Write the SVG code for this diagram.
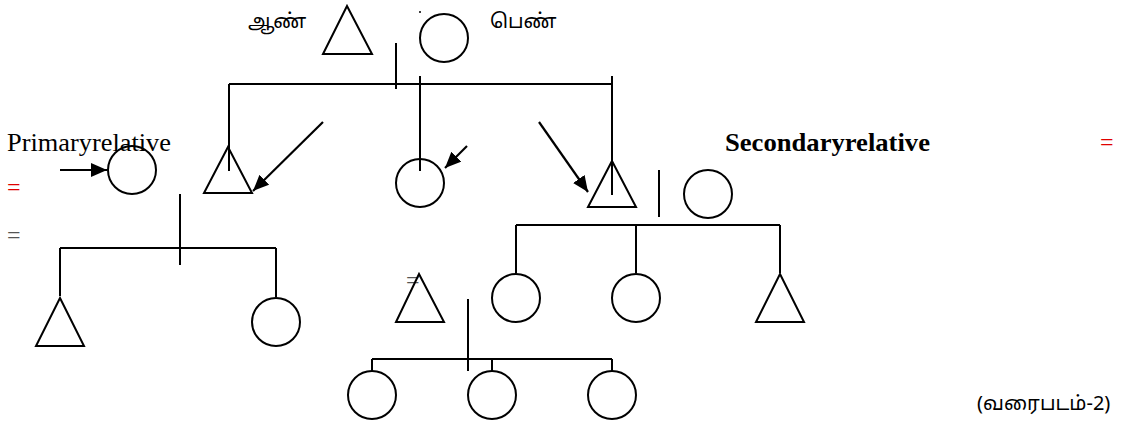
<svg xmlns="http://www.w3.org/2000/svg" width="1129" height="424" viewBox="0 0 1129 424">
  <style>
    .shape { fill: none; stroke: #000; stroke-width: 2; }
    .link { fill: none; stroke: #000; stroke-width: 2; }
    .arrow { fill: none; stroke: #000; stroke-width: 2.2; marker-end: url(#head); }
    .tamil { font-family: "Noto Sans", "Noto Sans Tamil", "DejaVu Sans", sans-serif; font-size: 20px; fill: #000; }
    .serif { font-family: "Liberation Serif", "Times New Roman", serif; font-size: 26px; fill: #000; }
    .bold { font-weight: bold; }
    .eq { font-family: "Liberation Serif", "Times New Roman", serif; font-size: 24px; }
    .red { fill: #e00000; }
    .grey { fill: #555; }
  </style>
  <defs>
    <marker id="head" viewBox="0 0 16 14" refX="16" refY="7" markerWidth="16" markerHeight="14" markerUnits="userSpaceOnUse" orient="auto">
      <path d="M0,0 L16,7 L0,14 z" fill="#000"/>
    </marker>
  </defs>

  <rect width="1129" height="424" fill="#fff"/>

  <!-- labels -->
  <g id="labels">
    <text class="tamil" x="248" y="28">ஆண்</text>
    <text class="tamil" x="490" y="28">பெண்</text>
    <text class="serif" x="7" y="151" textLength="164" lengthAdjust="spacingAndGlyphs">Primaryrelative</text>
    <text class="serif bold" x="725" y="151" textLength="205" lengthAdjust="spacingAndGlyphs">Secondaryrelative</text>
    <text class="eq red" x="1100" y="150">=</text>
    <text class="eq red" x="7" y="195">=</text>
    <text class="eq grey" x="7" y="243">=</text>
    <text class="eq grey" x="406" y="288" font-size="12">=</text>
    <text class="tamil" x="977" y="410">(வரைபடம்-2)</text>
    <circle cx="420" cy="12" r="1" fill="#000"/>
  </g>

  <!-- connectors -->
  <g id="connectors">
    <!-- first generation couple -->
    <line class="link" x1="396" y1="43" x2="396" y2="89"/>
    <line class="link" x1="229" y1="84" x2="612" y2="84"/>
    <line class="link" x1="229" y1="84" x2="229" y2="171"/>
    <line class="link" x1="420" y1="76" x2="420" y2="171"/>
    <line class="link" x1="612" y1="76" x2="612" y2="195"/>
    <!-- left family -->
    <line class="link" x1="180" y1="194" x2="180" y2="265"/>
    <line class="link" x1="60" y1="248" x2="276" y2="248"/>
    <line class="link" x1="60" y1="248" x2="60" y2="296"/>
    <line class="link" x1="276" y1="248" x2="276" y2="297"/>
    <!-- right family -->
    <line class="link" x1="659" y1="170" x2="659" y2="217"/>
    <line class="link" x1="516" y1="225" x2="780" y2="225"/>
    <line class="link" x1="516" y1="225" x2="516" y2="273"/>
    <line class="link" x1="636" y1="225" x2="636" y2="273"/>
    <line class="link" x1="780" y1="225" x2="780" y2="273"/>
    <!-- lower family -->
    <line class="link" x1="468" y1="299" x2="468" y2="371"/>
    <line class="link" x1="372" y1="359" x2="612" y2="359"/>
    <line class="link" x1="372" y1="359" x2="372" y2="371"/>
    <line class="link" x1="492" y1="359" x2="492" y2="371"/>
    <line class="link" x1="612" y1="359" x2="612" y2="371"/>
    <!-- pointers -->
    <line class="arrow" x1="60" y1="170" x2="107" y2="170"/>
    <line class="arrow" x1="323" y1="122" x2="253" y2="191"/>
    <line class="arrow" x1="467" y1="146" x2="445" y2="168"/>
    <line class="arrow" x1="539" y1="122" x2="588" y2="192"/>
  </g>

  <!-- people -->
  <g id="father"><polygon class="shape" points="347,6 372,54 323,54"/></g>
  <g id="mother"><circle class="shape" cx="444" cy="38" r="24"/></g>
  <g id="primary-relative"><circle class="shape" cx="132" cy="170" r="24"/></g>
  <g id="son-1"><polygon class="shape" points="228,147 252,193 204,193"/></g>
  <g id="daughter-1"><circle class="shape" cx="420" cy="183" r="24"/></g>
  <g id="son-2"><polygon class="shape" points="612,161 636,207 588,207"/></g>
  <g id="son-2-wife"><circle class="shape" cx="708" cy="194" r="24"/></g>
  <g id="grandson-1"><polygon class="shape" points="60,298 84,346 36,346"/></g>
  <g id="granddaughter-1"><circle class="shape" cx="276" cy="322" r="24"/></g>
  <g id="grandson-2"><polygon class="shape" points="419,274 444,322 396,322"/></g>
  <g id="granddaughter-2"><circle class="shape" cx="516" cy="298" r="24"/></g>
  <g id="granddaughter-3"><circle class="shape" cx="636" cy="298" r="24"/></g>
  <g id="grandson-3"><polygon class="shape" points="780,274 804,322 756,322"/></g>
  <g id="great-grandchild-1"><circle class="shape" cx="372" cy="395" r="24"/></g>
  <g id="great-grandchild-2"><circle class="shape" cx="492" cy="395" r="24"/></g>
  <g id="great-grandchild-3"><circle class="shape" cx="612" cy="395" r="24"/></g>
</svg>
